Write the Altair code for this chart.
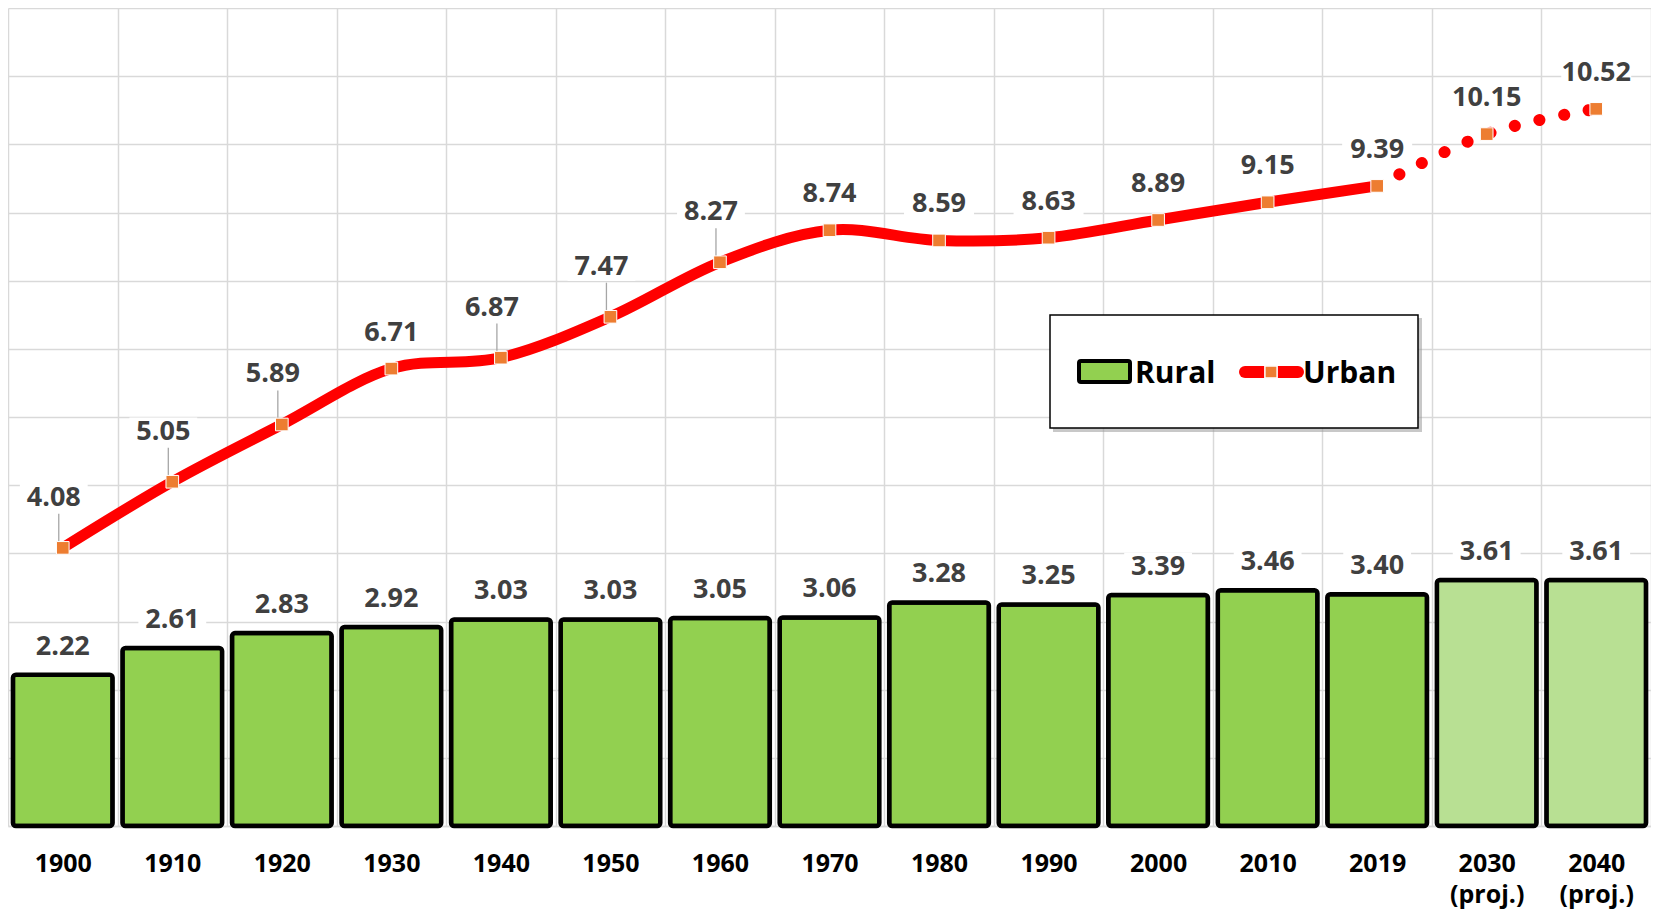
import altair as alt
import pandas as pd

years = ["1900", "1910", "1920", "1930", "1940", "1950", "1960", "1970", "1980",
         "1990", "2000", "2010", "2019", "2030 (proj.)", "2040 (proj.)"]
rural = [2.22, 2.61, 2.83, 2.92, 3.03, 3.03, 3.05, 3.06, 3.28, 3.25, 3.39, 3.46, 3.40, 3.61, 3.61]
urban = [4.08, 5.05, 5.89, 6.71, 6.87, 7.47, 8.27, 8.74, 8.59, 8.63, 8.89, 9.15, 9.39, 10.15, 10.52]
projected = [False] * 13 + [True, True]
leader = [True, True, True, False, True, True, True, False, False, False, False, False, False, False, False]

df = pd.DataFrame({
    "year": years, "rural": rural, "urban": urban,
    "proj": projected, "leader": leader, "idx": list(range(len(years))),
})

GREEN = "#92D050"
PROJ = "#B8E093"
RED = "#FF0000"
ORANGE = "#ED7D31"
LABEL = "#404040"
GRID = "#D9D9D9"
FONT = "Open Sans"
LFS = 27

x_axis = alt.Axis(tickBand="extent", ticks=False, grid=True, gridColor=GRID, gridWidth=1.5,
                  domainColor=GRID, domainWidth=1.5, labelAngle=0, labelFont=FONT,
                  labelFontSize=25, labelFontWeight="bold", labelColor="black",
                  labelExpr="split(datum.label, ' ')", labelLineHeight=31, labelPadding=25)
x_scale = alt.Scale(paddingInner=0, paddingOuter=0)
y_scale = alt.Scale(domain=[0, 12], nice=False, zero=True)
y_axis = alt.Axis(values=list(range(13)), labels=False, ticks=False, domain=False, grid=True,
                  gridColor=GRID, gridWidth=1.5)


def X():
    return alt.X("year:N", sort=years, scale=x_scale, axis=x_axis, title=None)


def Y(field):
    return alt.Y(field + ":Q", scale=y_scale, axis=y_axis, title=None)


base = alt.Chart(df)
BOX = "M-1,-0.42H1V0.42H-1Z"

bars = base.mark_bar(width={"band": 0.91}, stroke="black", strokeWidth=4.5, cornerRadius=3).encode(
    x=X(), y=Y("rural"),
    fill=alt.condition("datum.proj", alt.value(PROJ), alt.value(GREEN)),
)

rural_box = base.mark_point(shape=BOX, filled=True, color="white", opacity=1, size=4600,
                            yOffset=-28).encode(x=X(), y=Y("rural"))
rural_text = base.mark_text(font=FONT, fontSize=LFS, fontWeight="bold", color=LABEL,
                            baseline="middle", dy=-28).encode(
    x=X(), y=Y("rural"), text=alt.Text("rural:Q", format=".2f"))

norm = base.transform_filter("!datum.leader")
lead = base.transform_filter("datum.leader")

urban_box_n = norm.mark_point(shape=BOX, filled=True, color="white", opacity=1, size=4900,
                              yOffset=-36).encode(x=X(), y=Y("urban"))
urban_box_l = lead.mark_point(shape=BOX, filled=True, color="white", opacity=1, size=4600,
                              yOffset=-50, xOffset=-9).encode(x=X(), y=Y("urban"))

line_solid = base.transform_filter("datum.idx <= 12").mark_line(
    color=RED, strokeWidth=11, interpolate="cardinal").encode(x=X(), y=Y("urban"))
line_dot = base.transform_filter("datum.idx >= 12").mark_line(
    color=RED, strokeWidth=12, strokeCap="round", strokeDash=[0.1, 25],
    interpolate="cardinal").encode(x=X(), y=Y("urban"))

leader_rule = lead.transform_calculate(top="datum.urban + 0.5").mark_rule(
    color="#A6A6A6", strokeWidth=1.3, xOffset=-4).encode(
    x=X(), y=Y("urban"), y2=alt.Y2("top:Q"))

markers = base.mark_point(shape="square", filled=True, color=ORANGE, size=160, opacity=1,
                          stroke="white", strokeWidth=1).encode(x=X(), y=Y("urban"))

urban_text_n = norm.mark_text(font=FONT, fontSize=LFS, fontWeight="bold", color=LABEL,
                              baseline="middle", dy=-36).encode(
    x=X(), y=Y("urban"), text=alt.Text("urban:Q", format=".2f"))
urban_text_l = lead.mark_text(font=FONT, fontSize=LFS, fontWeight="bold", color=LABEL,
                              baseline="middle", dy=-50, dx=-9).encode(
    x=X(), y=Y("urban"), text=alt.Text("urban:Q", format=".2f"))

# legend box
one = alt.Chart(pd.DataFrame({"k": [0]}))
leg_shadow = one.mark_rect(color="#9a9a9a", opacity=0.55).encode(
    x=alt.value(1045), x2=alt.value(1414), y=alt.value(310), y2=alt.value(424))
leg_box = one.mark_rect(fill="white", stroke="black", strokeWidth=1.5).encode(
    x=alt.value(1042), x2=alt.value(1410), y=alt.value(307), y2=alt.value(420))
leg_swatch = one.mark_rect(fill=GREEN, stroke="black", strokeWidth=4, cornerRadius=2).encode(
    x=alt.value(1071), x2=alt.value(1122), y=alt.value(353), y2=alt.value(374))
leg_rural = one.mark_text(font=FONT, fontSize=30, fontWeight="bold", color="black",
                          align="left", baseline="alphabetic").encode(
    x=alt.value(1127), y=alt.value(375), text=alt.value("Rural"))
leg_line = one.mark_rule(color=RED, strokeWidth=12, strokeCap="round").encode(
    x=alt.value(1237), x2=alt.value(1290), y=alt.value(364))
leg_marker = one.mark_point(shape="square", filled=True, color=ORANGE, size=150, opacity=1,
                            stroke="white", strokeWidth=1.5).encode(
    x=alt.value(1263), y=alt.value(364))
leg_urban = one.mark_text(font=FONT, fontSize=30, fontWeight="bold", color="black",
                          align="left", baseline="alphabetic").encode(
    x=alt.value(1295), y=alt.value(375), text=alt.value("Urban"))

chart = alt.layer(
    bars, rural_box, urban_box_n, urban_box_l, line_solid, line_dot, leader_rule, markers,
    rural_text, urban_text_n, urban_text_l,
    leg_shadow, leg_box, leg_swatch, leg_rural, leg_line, leg_marker, leg_urban,
).properties(
    width=1643, height=818,
    padding={"left": 0, "top": 0, "right": 0, "bottom": 90},
    autosize=alt.AutoSizeParams(type="none"),
).configure_view(strokeWidth=0)

chart.save("out.html", embed_options={"renderer": "svg", "actions": False})
